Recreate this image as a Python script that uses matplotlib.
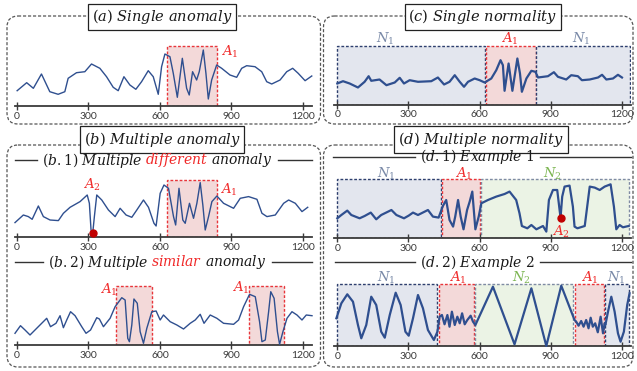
import matplotlib
matplotlib.use("Agg")
import matplotlib.pyplot as plt
from matplotlib.patches import Rectangle, FancyBboxPatch

plt.rcParams['mathtext.fontset'] = 'dejavuserif'

W, H = 637, 371
TICKS = [0, 300, 600, 900, 1200]

LINE = '#2F4F8F'
RED = '#F02828'
DOT = '#C00000'
NAVY_LBL = '#7A8AA8'
GREEN_LBL = '#7DB653'

# (a) single anomaly
a_x = [1, 41, 69, 103, 138, 173, 201, 215, 250, 285, 313, 348, 376, 404, 425, 449, 474, 499,
       523, 551, 572, 593, 607, 621, 642, 656, 673, 694, 712, 723, 737, 754, 765, 782, 793, 803,
       817, 838, 859, 894, 922, 943, 964, 999, 1027, 1048, 1069, 1104, 1132, 1157, 1180, 1209, 1237]
a_y = [15.3, 23.3, 17.7, 32, 14.3, 11.7, 14.3, 27.7, 33.3, 34.3, 42, 37.7, 29.3, 18.7, 15.3, 29.3,
       21, 16.7, 24.3, 35.3, 29.3, 11.7, 39.3, 52, 49.3, 32.7, 8.7, 47.7, 17.7, 11, 34.3, 26, 34.3,
       56, 32.7, 7, 26, 41, 37.7, 31, 28.7, 37.7, 40.3, 39.3, 34.3, 24.3, 22, 26, 34.3, 37.7, 32.7,
       25.3, 30]
a_regions = [(630, 840, 60.3, 'A')]
a_labels = [(894, 54, r'$A_1$', RED)]

# (b.1) multiple different anomaly
b1_x = [-8, 27, 48, 64, 90, 111, 139, 174, 195, 223, 265, 295, 304, 311, 318, 325, 335, 356, 384,
        412, 433, 458, 482, 503, 531, 552, 575, 584, 601, 617, 636, 657, 666, 680, 696, 706, 724,
        741, 755, 769, 780, 790, 804, 818, 839, 867, 909, 937, 972, 1007, 1028, 1049, 1084, 1119,
        1140, 1168, 1196, 1220]
b1_y = [14.7, 22.3, 20.7, 18, 31.3, 20.7, 17.3, 16.7, 24, 30, 35.7, 42.3, 34, 7.3, 4, 20.7, 42.3,
        37.3, 27.3, 20.7, 29, 22.3, 20, 27.3, 37.3, 30, 14, 11.3, 44, 52.3, 49, 20.7, 12.3, 49,
        17.3, 14, 34, 19, 34, 54.7, 32.3, 7.3, 20.7, 35.7, 41.3, 34, 29, 39, 40.7, 38, 24, 20.7,
        22.3, 34, 37.3, 34, 25.7, 30]
b1_regions = [(630, 840, 57.3, 'A')]
b1_labels = [(313, 52, r'$A_2$', RED), (888, 47, r'$A_1$', RED)]
b1_dot = (318, 4)

# (b.2) multiple similar anomaly
b2_x = [-8, 15, 34, 55, 83, 125, 141, 164, 181, 195, 209, 225, 244, 272, 290, 309, 335, 346, 363,
        391, 412, 440, 454, 465, 472, 482, 491, 505, 517, 531, 545, 566, 584, 601, 615, 643, 671,
        699, 727, 748, 769, 785, 811, 839, 867, 909, 930, 951, 976, 1000, 1018, 1028, 1042, 1056,
        1065, 1079, 1093, 1102, 1116, 1133, 1154, 1175, 1196, 1214, 1238]
b2_y = [11.7, 19.3, 15, 10, 16.7, 26.7, 18.3, 21.7, 29.3, 17.3, 25, 33.3, 29.3, 18.3, 11.7, 15,
        27.3, 26, 18.3, 26.7, 38.3, 47.3, 45, 6.7, 3.3, 20, 46, 41.7, 13.3, 1.7, 16.7, 33.3, 34,
        25, 30, 23.3, 20, 16, 21.7, 25, 30.7, 21.7, 30, 26.7, 21.7, 20.7, 25, 38.3, 50.7, 48.3,
        23.3, 3.3, 5, 33.3, 53.3, 46.7, 13.3, 0.7, 13.3, 26.7, 33.3, 30, 25, 30, 29.3]
b2_regions = [(416, 566, 59.3, 'A'), (974, 1120, 59.3, 'A')]
b2_labels = [(384, 55, r'$A_1$', RED), (937, 56.7, r'$A_1$', RED)]

# (c) single normality
c_x = [0, 24, 52, 87, 115, 132, 143, 178, 207, 242, 263, 281, 305, 340, 396, 424, 450, 473, 495,
       516, 534, 551, 579, 600, 621, 649, 670, 688, 698, 705, 722, 738, 759, 770, 778, 797, 818,
       835, 846, 888, 913, 930, 965, 986, 1014, 1031, 1064, 1099, 1116, 1134, 1162, 1183, 1200]
c_y = [21, 23.3, 21, 17, 22.7, 28.3, 23.7, 25, 19.3, 22, 26.7, 21, 24.3, 22.7, 23.3, 27, 20, 22.7,
       29.3, 22.7, 17.7, 22.7, 26, 24.3, 22, 26, 34.3, 44.3, 39.3, 13.7, 41, 13.7, 46, 31, 12.7,
       26, 33.7, 32.7, 27, 28.3, 32.3, 27.7, 25, 29.3, 28.3, 24.3, 25, 27, 29.7, 25, 26, 29.7, 27]
c_regions = [(0, 621, 58.7, 'N1'), (625, 836, 58.7, 'A'), (839, 1235, 58.7, 'N1')]
c_labels = [(200, 66, r'$N_1$', NAVY_LBL), (726, 66, r'$A_1$', RED), (1028, 66, r'$N_1$', NAVY_LBL)]

# (d.1) example 1
d1_x = [0, 17, 42, 59, 94, 115, 141, 164, 185, 228, 249, 281, 301, 319, 340, 382, 403, 427, 445,
        459, 473, 488, 497, 509, 520, 532, 547, 558, 569, 582, 596, 607, 635, 670, 705, 726, 754,
        768, 778, 801, 818, 839, 867, 881, 892, 909, 927, 937, 941, 948, 958, 979, 993, 1000, 1012,
        1043, 1064, 1085, 1106, 1127, 1152, 1166, 1176, 1190, 1204, 1228]
d1_y = [20, 23.3, 27.7, 23.3, 20, 22.3, 25.7, 19, 23.3, 28.3, 23.3, 20, 22.7, 25.7, 23.3, 28.3,
        21.7, 20.7, 32.3, 38.3, 18.3, 11.7, 21.7, 38.3, 21.7, 9, 28.3, 36.7, 46.7, 9, 21.7, 35,
        38.3, 41.7, 44.3, 46.7, 38.3, 25, 12.3, 10, 13.3, 9, 12.3, 6.7, 38.3, 48.3, 48.3, 28.3,
        20.7, 41.7, 51.7, 52.7, 31.7, 11.7, 10, 12.3, 51.7, 50.7, 48.3, 51.7, 54, 31.7, 9, 13.3,
        11, 12.3]
d1_regions = [(0, 436, 59.3, 'N1'), (441, 600, 59.3, 'A'), (604, 1228, 59.3, 'N2')]
d1_labels = [(207, 64.5, r'$N_1$', NAVY_LBL), (532, 64.5, r'$A_1$', RED),
             (909, 64.5, r'$N_2$', GREEN_LBL), (943, 6.6, r'$A_2$', RED)]
d1_dot = (941, 20.7)

# (d.2) example 2
d2_x = [-4, 17, 42, 66, 87, 101, 122, 143, 164, 185, 200, 221, 246, 267, 287, 301, 319, 340, 361,
        382, 407, 422, 431, 441, 452, 464, 473, 483, 495, 506, 516, 526, 537, 548, 562, 572, 582,
        656, 747, 818, 881, 944, 1000, 1007, 1017, 1028, 1038, 1049, 1059, 1068, 1077, 1087, 1098,
        1110, 1120, 1127, 1130, 1141, 1155, 1169, 1183, 1194, 1208, 1222, 1232]
d2_y = [27.7, 42.7, 51.7, 44.3, 21, 7.7, 21, 49.3, 41, 14.3, 8.3, 31, 53.3, 41, 14.3, 10.3, 27.7,
        51, 37.7, 16, 6, 14.3, 29.3, 31, 21.7, 31, 19.3, 34.3, 21, 29.3, 22.7, 32.7, 21.7, 26, 30.3,
        24.3, 21, 59.3, 1.7, 57.7, 0, 60.3, 26, 24.3, 20.3, 25, 19.3, 26, 17.7, 28.3, 19.3, 22.7,
        13.7, 29.3, 12.7, 22.7, 21, 34.3, 49.3, 34.3, 12.7, 4.3, 14.3, 41, 52.7]
d2_regions = [(0, 422, 61.7, 'N1'), (427, 576, 61.7, 'A'), (582, 993, 61.7, 'N2'),
              (1000, 1124, 61.7, 'A'), (1130, 1228, 61.7, 'N1')]
d2_labels = [(207, 68, r'$N_1$', NAVY_LBL), (509, 68, r'$A_1$', RED),
             (778, 68, r'$N_2$', GREEN_LBL), (1064, 68, r'$A_1$', RED),
             (1176, 68, r'$N_1$', NAVY_LBL)]

REGION_STYLE = {
    'A': dict(facecolor='#F3D9D9', edgecolor='#E8353A'),
    'N1': dict(facecolor='#E3E6EE', edgecolor='#2E3F6E'),
    'N2': dict(facecolor='#EBF3E5', edgecolor='#7F8BA3'),
}

HEAD_FS = 10
GAP = 2.5  # extra px between differently coloured words

fig = plt.figure(figsize=(W / 100, H / 100), dpi=100)

# overlay in pixel units for frames and headings
ov = fig.add_axes([0, 0, 1, 1])
ov.set_xlim(0, W)
ov.set_ylim(H, 0)
ov.axis('off')
rend = fig.canvas.get_renderer()


def frame(x0, y0, x1, y1):
    ov.add_patch(FancyBboxPatch((x0, y0), x1 - x0, y1 - y0,
                                boxstyle='round,pad=0,rounding_size=11',
                                fill=False, ec='#555555', lw=0.9, ls=(0, (2.5, 1.5))))


def title_box(cx, y0, y1, text):
    ov.text(cx, (y0 + y1) / 2 + 0.5, text, fontsize=10.5, ha='center', va='center', color='#1a1a1a',
            bbox=dict(boxstyle='square,pad=0.25', fc='white', ec='#222222', lw=0.9))


def rich_heading(cx, cy, parts, left, right):
    objs = [ov.text(0, cy, s, color=c, fontsize=HEAD_FS, ha='left', va='center') for s, c in parts]
    widths = [o.get_window_extent(rend).width for o in objs]
    total = sum(widths) + GAP * (len(objs) - 1)
    x = cx - total / 2
    start = x
    for o, w in zip(objs, widths):
        o.set_x(x)
        x += w + GAP
    x -= GAP
    ov.plot([left, start - 5], [cy, cy], color='#333333', lw=1)
    ov.plot([x + 6, right], [cy, cy], color='#333333', lw=1)


frame(7, 16, 320.5, 124)
frame(323.5, 16, 633, 124)
frame(7, 145, 320.5, 367)
frame(323.5, 145, 633, 367)

title_box(162, 4, 29, r'$(a)\ Single\ anomaly$')
title_box(483, 4, 29, r'$(c)\ Single\ normality$')
title_box(162, 127, 151, r'$(b)\ Multiple\ anomaly$')
title_box(481, 127, 151, r'$(d)\ Multiple\ normality$')

rich_heading(157, 160, [(r'$(b.1)\ Multiple$', '#1a1a1a'), (r'$different$', RED),
                        (r'$anomaly$', '#1a1a1a')], 15, 312)
rich_heading(157, 262, [(r'$(b.2)\ Multiple$', '#1a1a1a'), (r'$similar$', RED),
                        (r'$anomaly$', '#1a1a1a')], 15, 312)
rich_heading(477, 157, [(r'$(d.1)\ Example\ 1$', '#1a1a1a')], 333, 631)
rich_heading(477, 262, [(r'$(d.2)\ Example\ 2$', '#1a1a1a')], 335, 631)


def panel(x0, x1, axis_y, xlim, xs, ys, regions, labels, lw, dot=None):
    ax = fig.add_axes([x0 / W, (H - axis_y) / H, (x1 - x0) / W, 75 / H])
    ax.set_xlim(*xlim)
    ax.set_ylim(0, 75)
    ax.patch.set_alpha(0)
    for s in ['left', 'right', 'top']:
        ax.spines[s].set_visible(False)
    ax.spines['bottom'].set_color('#3a3a3a')
    ax.spines['bottom'].set_linewidth(1.3)
    ax.set_yticks([])
    ax.set_xticks(TICKS)
    ax.set_xticklabels([str(t) for t in TICKS], fontfamily='Lato')
    ax.tick_params(axis='x', direction='inout', length=6, width=1, colors='#3a3a3a',
                   labelsize=7.5, pad=1)
    for r0, r1, top, kind in regions:
        ax.add_patch(Rectangle((r0, 0), r1 - r0, top, lw=1, ls=(0, (2, 1.3)),
                               zorder=1, **REGION_STYLE[kind]))
    ax.plot(xs, ys, color=LINE, lw=lw, zorder=3, solid_joinstyle='round', clip_on=False)
    for lx, ly, s, c in labels:
        ax.text(lx, ly, s, color=c, fontsize=9.5, ha='center', va='center', zorder=4)
    if dot is not None:
        ax.plot([dot[0]], [dot[1]], 'o', color=DOT, ms=5, zorder=5)
    return ax


panel(15, 312, 106, (-8, 1238), a_x, a_y, a_regions, a_labels, 1.0)
panel(15, 312, 237.3, (-8, 1238), b1_x, b1_y, b1_regions, b1_labels, 1.0, b1_dot)
panel(15, 312, 345, (-8, 1238), b2_x, b2_y, b2_regions, b2_labels, 1.0)
panel(334, 631, 104.5, (-14, 1238), c_x, c_y, c_regions, c_labels, 1.6)
panel(334, 631, 238.3, (-14, 1238), d1_x, d1_y, d1_regions, d1_labels, 1.6, d1_dot)
panel(334, 631, 346, (-14, 1238), d2_x, d2_y, d2_regions, d2_labels, 1.6)

fig.savefig('out.png', dpi=100)
